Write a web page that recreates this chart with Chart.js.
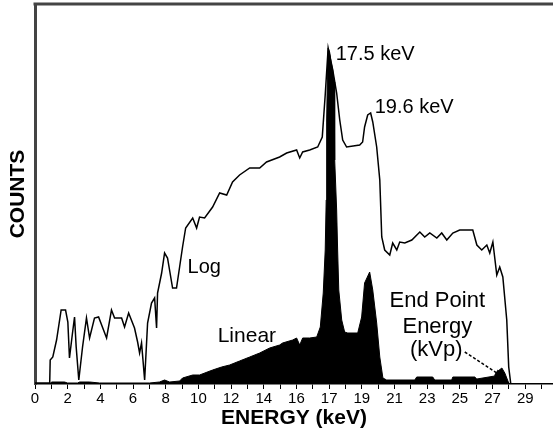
<!DOCTYPE html>
<html>
<head>
<meta charset="utf-8">
<script src="https://cdn.jsdelivr.net/npm/chart.js@4.4.0/dist/chart.umd.min.js"></script>
<style>
  html, body { margin: 0; padding: 0; background: #fff; }
</style>
</head>
<body>
<canvas id="myChart" width="553" height="434"></canvas>
<script>
// tick labels as printed under every second tick mark
const xTickLabels = ['0', '2', '4', '6', '8', '10', '12', '14', '16', '17', '19', '21', '23', '25', '27', '29'];

// "Log" spectrum (outline)
const logEnergy = [0, 0.9, 0.93, 1.09, 1.32, 1.6, 1.87, 2.01, 2.11, 2.28, 2.42, 2.52, 2.68, 2.91, 3.15, 3.34, 3.64, 3.89, 4.38, 4.68, 4.87, 5.3, 5.48, 5.73, 6.09, 6.28, 6.4, 6.52, 6.71, 6.89, 7.13, 7.32, 7.44, 7.5, 7.75, 7.93, 8.11, 8.42, 8.66, 8.85, 9.03, 9.22, 9.65, 9.89, 10.07, 10.38, 10.87, 11.3, 11.73, 12.09, 12.52, 13.14, 13.75, 14.17, 14.97, 15.4, 16.01, 16.2, 16.38, 16.81, 17.3, 17.58, 17.76, 17.94, 18.22, 18.46, 18.65, 18.83, 19.07, 19.87, 20.05, 20.17, 20.36, 20.54, 20.67, 20.91, 21.1, 21.22, 21.4, 21.71, 21.89, 22.14, 22.32, 22.63, 23.06, 23.55, 23.85, 24.16, 24.59, 24.89, 25.2, 25.57, 25.99, 26.79, 27.04, 27.34, 27.65, 27.83, 28.02, 28.26, 28.44, 28.63, 28.87, 28.99, 29.11];
const logCounts = [1, 1, 24, 27, 44, 74, 74, 62, 26, 49, 67, 37, 4, 37, 66, 46, 66, 67, 46, 74, 66, 66, 57, 71, 56, 42, 31, 41, 4, 61, 81, 86, 56, 91, 111, 131, 126, 96, 96, 117, 137, 156, 166, 156, 167, 166, 177, 191, 189, 202, 209, 216, 216, 222, 227, 231, 234, 226, 232, 234, 237, 247, 289, 336, 314, 291, 264, 244, 237, 239, 242, 257, 269, 271, 262, 237, 204, 147, 134, 129, 141, 134, 142, 141, 144, 152, 147, 151, 146, 151, 144, 151, 154, 154, 139, 134, 139, 131, 142, 109, 117, 107, 64, 17, 1];

// "Linear" spectrum (filled)
const linearEnergy = [0, 0.89, 1.01, 1.81, 1.99, 2.6, 2.73, 3.34, 3.95, 7.01, 7.62, 7.93, 8.24, 8.85, 9.03, 9.65, 10.07, 10.87, 11.42, 11.91, 12.52, 13.14, 13.75, 14.36, 14.97, 15.15, 15.77, 16.01, 16.2, 16.38, 16.81, 17.24, 17.46, 17.64, 17.76, 17.82, 17.85, 17.91, 17.94, 18.03, 18.12, 18.22, 18.31, 18.34, 18.46, 18.52, 18.59, 18.77, 18.95, 19.14, 19.75, 19.99, 20.17, 20.48, 20.67, 20.91, 21.1, 21.29, 21.52, 23.24, 23.36, 24.34, 24.46, 25.5, 25.57, 26.91, 27.04, 28.14, 28.26, 28.57, 28.75, 28.99, 29.11];
const linearCounts = [0, 0, 2, 2, 1, 1, 2, 2, 1, 1, 2, 4, 2, 3, 6, 9, 9, 14, 17, 19, 23, 27, 31, 36, 39, 41, 44, 46, 39, 46, 46, 47, 57, 91, 134, 184, 264, 324, 336, 332, 322, 314, 302, 224, 174, 134, 94, 64, 52, 51, 51, 67, 101, 112, 94, 61, 27, 6, 4, 4, 7, 7, 4, 4, 7, 7, 5, 8, 12, 16, 11, 1, 0];

const fontFamily = "'Liberation Sans', Arial, Helvetica, sans-serif";

// text labels placed in data units
const notes = [
    { text: '17.5 keV', x: 18.4, y: 324, align: 'left', size: 20 },
    { text: '19.6 keV', x: 20.79, y: 271, align: 'left', size: 20 },
    { text: 'Log', x: 9.34, y: 111, align: 'left', size: 20 },
    { text: 'Linear', x: 11.18, y: 42, align: 'left', size: 21 },
    { text: 'End Point', x: 24.62, y: 77, align: 'center', size: 22 },
    { text: 'Energy', x: 24.62, y: 51, align: 'center', size: 22 },
    { text: '(kVp)', x: 24.56, y: 28, align: 'center', size: 22 }
];
const arrow = { from: [26.3, 32], to: [28.63, 7] };

const toPoints = (xs, ys) => xs.map((x, i) => ({ x: x, y: ys[i] }));

const notesPlugin = {
    id: 'notes',
    afterDatasetsDraw(chart) {
        const ctx = chart.ctx;
        const xs = chart.scales.x, ys = chart.scales.y;
        const area = chart.chartArea;
        ctx.save();
        // top frame line
        ctx.strokeStyle = '#444';
        ctx.lineWidth = 3;
        ctx.beginPath();
        ctx.moveTo(area.left - 1.5, area.top);
        ctx.lineTo(area.right, area.top);
        ctx.stroke();

        ctx.fillStyle = '#000';
        ctx.textBaseline = 'alphabetic';
        notes.forEach(n => {
            ctx.font = n.size + 'px ' + fontFamily;
            ctx.textAlign = n.align;
            ctx.fillText(n.text, xs.getPixelForValue(n.x), ys.getPixelForValue(n.y));
        });

        // pointer from (kVp) to the end point
        const x1 = xs.getPixelForValue(arrow.from[0]), y1 = ys.getPixelForValue(arrow.from[1]);
        const x2 = xs.getPixelForValue(arrow.to[0]), y2 = ys.getPixelForValue(arrow.to[1]);
        ctx.strokeStyle = '#000';
        ctx.lineWidth = 1.5;
        ctx.setLineDash([3, 2]);
        ctx.beginPath();
        ctx.moveTo(x1, y1);
        ctx.lineTo(x2, y2);
        ctx.stroke();
        ctx.setLineDash([]);
        const ang = Math.atan2(y2 - y1, x2 - x1);
        ctx.beginPath();
        ctx.moveTo(x2, y2);
        ctx.lineTo(x2 - 9 * Math.cos(ang - 0.4), y2 - 9 * Math.sin(ang - 0.4));
        ctx.lineTo(x2 - 9 * Math.cos(ang + 0.4), y2 - 9 * Math.sin(ang + 0.4));
        ctx.closePath();
        ctx.fill();
        ctx.restore();
    }
};

const myChartRef = document.getElementById('myChart').getContext('2d');
new Chart(myChartRef, {
    type: 'line',
    data: {
        datasets: [
            {
                label: 'Linear',
                data: toPoints(linearEnergy, linearCounts),
                borderColor: '#000',
                backgroundColor: '#000',
                borderWidth: 1,
                pointRadius: 0,
                fill: 'origin',
                tension: 0
            },
            {
                label: 'Log',
                data: toPoints(logEnergy, logCounts),
                borderColor: '#000',
                borderWidth: 1.5,
                pointRadius: 0,
                fill: false,
                tension: 0
            }
        ]
    },
    options: {
        responsive: false,
        animation: false,
        layout: { padding: { top: 4, right: 0, bottom: 0, left: 0 } },
        plugins: {
            legend: { display: false },
            tooltip: { enabled: false }
        },
        scales: {
            x: {
                type: 'linear',
                min: 0,
                max: 31.7,
                afterBuildTicks: (scale) => {
                    scale.ticks = [];
                    for (let i = 0; i <= 31; i++) scale.ticks.push({ value: i });
                },
                afterFit: (scale) => { scale.height = 50; },
                ticks: {
                    autoSkip: false,
                    maxRotation: 0,
                    padding: 1,
                    color: '#000',
                    font: { family: fontFamily, size: 15 },
                    callback: (value, index) => (index % 2 === 0 ? xTickLabels[index / 2] : '')
                },
                grid: { drawOnChartArea: false, tickLength: 5, color: '#000', lineWidth: 1 },
                border: { color: '#000', width: 1.5 },
                title: {
                    display: true,
                    text: 'ENERGY (keV)',
                    color: '#000',
                    font: { family: fontFamily, size: 21, weight: 'bold' },
                    padding: { top: 0, bottom: 3 }
                }
            },
            y: {
                min: 0,
                max: 380,
                afterFit: (scale) => { scale.width = 35; },
                ticks: { display: false },
                grid: { display: false },
                border: { color: '#444', width: 3 },
                title: {
                    display: true,
                    text: 'COUNTS',
                    color: '#000',
                    font: { family: fontFamily, size: 21, weight: 'bold' },
                    padding: { top: 6, bottom: 2 }
                }
            }
        }
    },
    plugins: [notesPlugin]
});
</script>
</body>
</html>
